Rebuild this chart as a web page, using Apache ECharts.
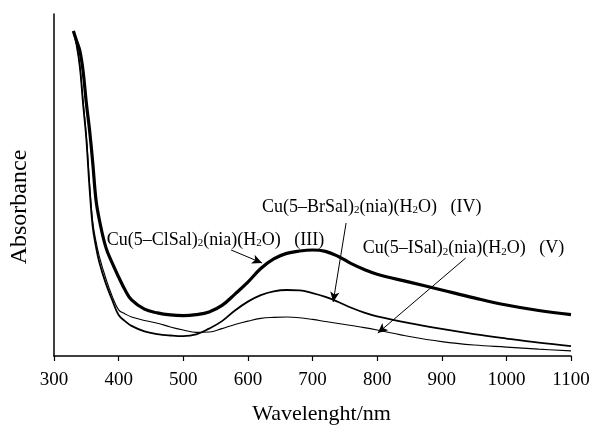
<!DOCTYPE html>
<html>
<head>
<meta charset="utf-8">
<script src="https://cdn.jsdelivr.net/npm/echarts@6/dist/echarts.min.js"></script>
<style>
html,body{margin:0;padding:0;background:#fff;}
#chart{width:592px;height:428px;}
</style>
</head>
<body>
<div id="chart"></div>
<script>
// wavelength samples (nm)
const wavelengths = [330,335,340,345,350,355,360,365,370,380,390,400,410,420,440,460,480,500,520,540,560,580,600,620,640,660,680,700,720,740,760,780,800,850,900,950,1000,1050,1100];
// Cu(5-ClSal)2(nia)(H2O) (III) - thick
const absIII = [0.950,0.921,0.892,0.833,0.740,0.661,0.564,0.456,0.400,0.319,0.272,0.231,0.193,0.164,0.137,0.126,0.120,0.118,0.121,0.129,0.148,0.181,0.216,0.256,0.284,0.300,0.307,0.310,0.306,0.291,0.270,0.253,0.239,0.216,0.193,0.170,0.149,0.133,0.121];
// Cu(5-BrSal)2(nia)(H2O) (IV) - medium
const absIV = [0.950,0.909,0.845,0.737,0.635,0.491,0.376,0.319,0.275,0.213,0.164,0.120,0.102,0.088,0.072,0.064,0.060,0.058,0.063,0.080,0.102,0.133,0.159,0.178,0.189,0.193,0.192,0.184,0.173,0.158,0.141,0.127,0.116,0.096,0.079,0.064,0.051,0.039,0.029];
// Cu(5-ISal)2(nia)(H2O) (V) - thin
const absV = [0.950,0.912,0.850,0.745,0.645,0.505,0.392,0.335,0.292,0.228,0.175,0.135,0.123,0.114,0.104,0.096,0.085,0.076,0.069,0.070,0.080,0.092,0.102,0.110,0.113,0.114,0.112,0.107,0.101,0.095,0.089,0.083,0.076,0.057,0.042,0.032,0.026,0.020,0.015];
// x tick labels
const xTicks = [300,400,500,600,700,800,900,1000,1100];
// annotation texts and anchors [wavelength, absorbance]
const labelIII = {main:'Cu(5–ClSal)', rest:'(nia)(H', tail:'O)   (III)', at:[381,0.345]};
const labelIV = {main:'Cu(5–BrSal)', rest:'(nia)(H', tail:'O)   (IV)', at:[621,0.4415]};
const labelV = {main:'Cu(5–ISal)', rest:'(nia)(H', tail:'O)   (V)', at:[777,0.3196]};
// arrows [from, to]
const arrowIII = [[574,0.310],[622,0.272]];
const arrowIV = [[752,0.389],[732,0.158]];
const arrowV = [[937,0.2865],[801,0.067]];

const FONT = 'Liberation Serif';
function zip(ys){ return wavelengths.map((w,i)=>[w,ys[i]]); }
function richText(l){ return '{m|'+l.main+'}{s|2}{m|'+l.rest+'}{s|2}{m|'+l.tail+'}'; }
const rich = {
  m:{fontFamily:FONT,fontSize:18,color:'#000',lineHeight:22,verticalAlign:'bottom'},
  s:{fontFamily:FONT,fontSize:11,color:'#000',lineHeight:14,verticalAlign:'bottom'}
};
function mp(l){
  return {coord:l.at, symbol:'circle', symbolSize:1, itemStyle:{color:'rgba(0,0,0,0)'},
    label:{show:true, position:'right', distance:0, formatter:richText(l), rich:rich}};
}
function ml(a){ return [{coord:a[0], symbol:'none'},{coord:a[1], symbol:'arrow'}]; }
const lineCommon = {type:'line',showSymbol:false,smooth:0.4};

const chart = echarts.init(document.getElementById('chart'), null, {renderer:'canvas'});
chart.setOption({
  animation:false,
  backgroundColor:'#fff',
  grid:{left:54,right:21,top:14,bottom:72,containLabel:false,outerBoundsMode:'none'},
  xAxis:{type:'value',min:300,max:1100,interval:100,
    axisLine:{show:true,lineStyle:{color:'#000',width:1.5}},
    axisTick:{show:true,inside:false,length:5,lineStyle:{color:'#000',width:1.2}},
    axisLabel:{color:'#000',fontFamily:FONT,fontSize:19,margin:15,
      formatter:v=>xTicks.includes(v)?String(v):''},
    splitLine:{show:false},
    name:'Wavelenght/nm',nameLocation:'middle',nameGap:47,
    nameTextStyle:{color:'#000',fontFamily:FONT,fontSize:22,padding:[0,0,0,18]}
  },
  yAxis:{type:'value',min:0,max:1,
    axisLine:{show:true,lineStyle:{color:'#000',width:1.5}},
    axisTick:{show:false},axisLabel:{show:false},splitLine:{show:false}
  },
  graphic:[{type:'text',x:20,y:207,rotation:Math.PI/2,
    style:{text:'Absorbance',fontFamily:FONT,fontSize:24,fill:'#000',align:'center',verticalAlign:'middle'}}],
  series:[
    Object.assign({},lineCommon,{data:zip(absIII),lineStyle:{color:'#000',width:3.2},
      markPoint:{data:[mp(labelIII)]},
      markLine:{silent:true,symbolSize:[7,10],lineStyle:{color:'#000',width:1,type:'solid'},label:{show:false},data:[ml(arrowIII)]}}),
    Object.assign({},lineCommon,{data:zip(absIV),lineStyle:{color:'#000',width:1.8},
      markPoint:{data:[mp(labelIV)]},
      markLine:{silent:true,symbolSize:[7,10],lineStyle:{color:'#000',width:1,type:'solid'},label:{show:false},data:[ml(arrowIV)]}}),
    Object.assign({},lineCommon,{data:zip(absV),lineStyle:{color:'#000',width:1.1},
      markPoint:{data:[mp(labelV)]},
      markLine:{silent:true,symbolSize:[7,10],lineStyle:{color:'#000',width:1,type:'solid'},label:{show:false},data:[ml(arrowV)]}})
  ]
});
</script>
</body>
</html>
